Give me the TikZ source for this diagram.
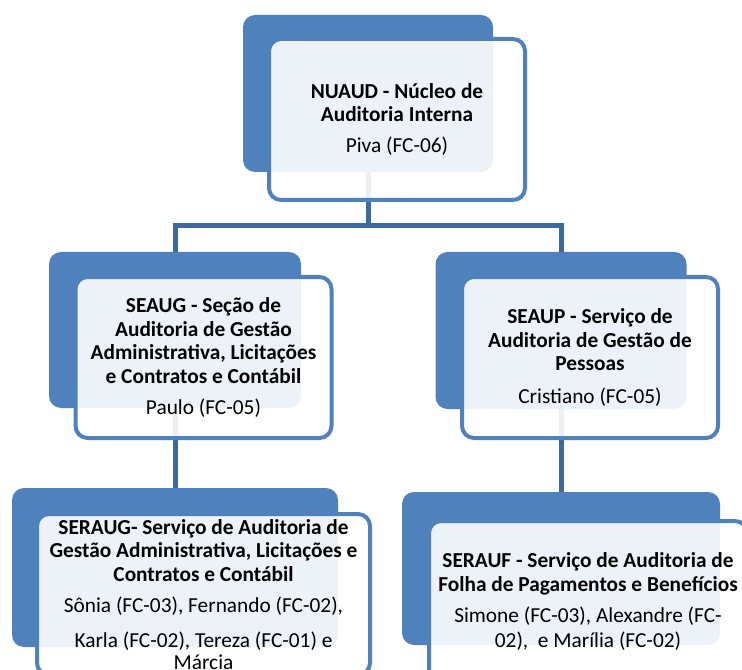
\documentclass[tikz,border=0pt]{standalone}
\usepackage{fontspec}
\setmainfont{Carlito}
\usetikzlibrary{positioning}
\definecolor{boxblue}{HTML}{4F81BD}
\definecolor{lineblue}{HTML}{3D6A9E}

\begin{document}
\begin{tikzpicture}[x=0.75pt,y=-0.75pt]
		\tikzstyle{every node}+=[inner sep=0pt]
		\tikzstyle{back}=[fill=boxblue, rounded corners=9pt]
		\tikzstyle{front}=[draw=boxblue, line width=3pt, fill=white, fill opacity=0.9, text opacity=1, rounded corners=9pt, align=center, font=\fontsize{16}{17.6}\selectfont]
		\tikzstyle{link}=[draw=lineblue, line width=3.75pt]
		\useasboundingbox (0,0) rectangle (742,670);
		\clip (0,0) rectangle (742,670);
		% dark boxes behind
		\node [back, minimum width=187.5pt, minimum height=117.75pt] (nuaudBg) at (368,93.5) {};
		\node [back, minimum width=189pt, minimum height=117pt] (seaugBg) at (175,330) {};
		\node [back, minimum width=188.25pt, minimum height=117.75pt] (seaupBg) at (561,330.5) {};
		\node [back, minimum width=244.5pt, minimum height=119.25pt] (seraugBg) at (175,567.5) {};
		\node [back, minimum width=238.5pt, minimum height=114.75pt] (seraufBg) at (561,568.5) {};
		% links
		\coordinate (split) at (368,226);
		\draw [link] (nuaudBg.south) -- (split);
		\draw [link] (seaugBg.north) -- (seaugBg.north |- split) -- (seaupBg.north |- split) -- (seaupBg.north);
		\draw [link] (seaugBg.south) -- (seraugBg.north);
		\draw [link] (seaupBg.south) -- (seraufBg.north);
		% text boxes
		\node [front, minimum width=192pt, minimum height=120.75pt] (nuaud) at (397,119.5)
			{\textbf{NUAUD - Núcleo de}\\\textbf{Auditoria Interna}\\[5.6pt]Piva (FC-06)};
		\node [front, minimum width=192pt, minimum height=120.75pt] (seaug) at (203.5,357.5)
			{\textbf{SEAUG - Seção de}\\\textbf{Auditoria de Gestão}\\\textbf{Administrativa, Licitações}\\\textbf{e Contratos e Contábil}\\[5.6pt]Paulo (FC-05)};
		\node [front, minimum width=192pt, minimum height=120.75pt] (seaup) at (590,357.5)
			{\textbf{SEAUP - Serviço de}\\\textbf{Auditoria de Gestão de}\\\textbf{Pessoas}\\[6.5pt]Cristiano (FC-05)};
		\node [front, minimum width=249.75pt, minimum height=120.75pt] (seraug) at (203.5,594.5)
			{\textbf{SERAUG- Serviço de Auditoria de}\\\textbf{Gestão Administrativa, Licitações e}\\\textbf{Contratos e Contábil}\\[6pt]Sônia (FC-03), Fernando (FC-02),\\[8.6pt]Karla (FC-02), Tereza (FC-01) e\\[-1pt]Márcia};
		\node [front, minimum width=238.5pt, minimum height=120.75pt] (serauf) at (588,601.5)
			{\textbf{SERAUF - Serviço de Auditoria de}\\\textbf{Folha de Pagamentos e Benefícios}\\[6pt]Simone (FC-03), Alexandre (FC-\\[1pt]02),~ e Marília (FC-02)};
\end{tikzpicture}
\end{document}
